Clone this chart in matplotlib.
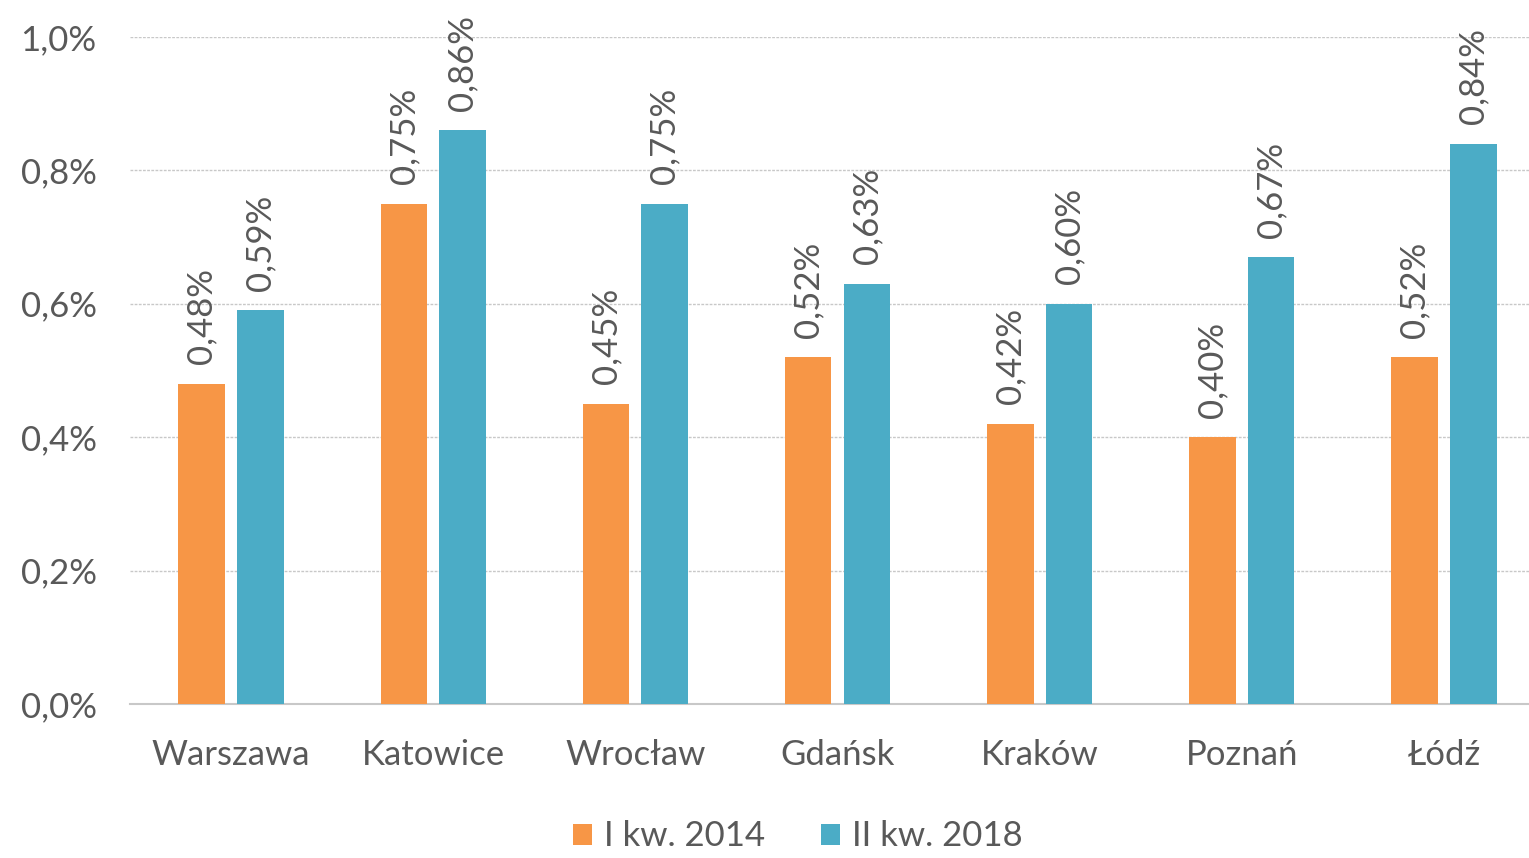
import matplotlib.pyplot as plt
import numpy as np

cities = ['Warszawa', 'Katowice', 'Wrocław', 'Gdańsk', 'Kraków', 'Poznań', 'Łódź']
q1_2014 = [0.48, 0.75, 0.45, 0.52, 0.42, 0.40, 0.52]
q2_2018 = [0.59, 0.86, 0.75, 0.63, 0.60, 0.67, 0.84]
series_names = ['I kw. 2014', 'II kw. 2018']

plt.rcParams['font.family'] = ['Lato', 'DejaVu Sans']
grey = '#595959'

fig = plt.figure(figsize=(15.29, 8.58), dpi=100)
ax = fig.add_axes([0.085, 0.1795, 0.9255, 0.7775])

x = np.arange(len(cities))
w = 0.23
b1 = ax.bar(x - 0.145, q1_2014, w, color='#F79646', label=series_names[0], zorder=3)
b2 = ax.bar(x + 0.145, q2_2018, w, color='#4BACC6', label=series_names[1], zorder=3)

# rotated value labels above bars
for bars, vals in [(b1, q1_2014), (b2, q2_2018)]:
    for rect, v in zip(bars, vals):
        ax.annotate(f"{v:.2f}%".replace('.', ','),
                    (rect.get_x() + rect.get_width() / 2, v),
                    xytext=(0, 14), textcoords='offset points',
                    rotation=90, ha='center', va='bottom',
                    fontsize=25, color=grey, annotation_clip=False)

ax.set_xlim(-0.5, len(cities) - 0.5)
ax.set_ylim(0, 1.0)
ax.set_yticks(np.arange(0, 1.01, 0.2))
ax.set_yticklabels([f"{t:.1f}%".replace('.', ',') for t in np.arange(0, 1.01, 0.2)])
ax.set_xticks(x)
ax.set_xticklabels(cities)
ax.tick_params(axis='both', length=0, labelsize=25, labelcolor=grey)
ax.tick_params(axis='x', pad=25)
ax.tick_params(axis='y', pad=24)

ax.grid(axis='y', color='#c8c8c8', linestyle=(0, (2, 1)), linewidth=1, zorder=0)
for s in ['top', 'right', 'left']:
    ax.spines[s].set_visible(False)
ax.spines['bottom'].set_color('#c8c8c8')
ax.spines['bottom'].set_linewidth(1.5)

fig.legend(loc='lower center', bbox_to_anchor=(0.522, -0.03), ncol=2, frameon=False,
           fontsize=25, labelcolor=grey, handlelength=0.55, handleheight=0.55,
           handletextpad=0.35, columnspacing=1.6)

fig.savefig('out.png', dpi=100)
